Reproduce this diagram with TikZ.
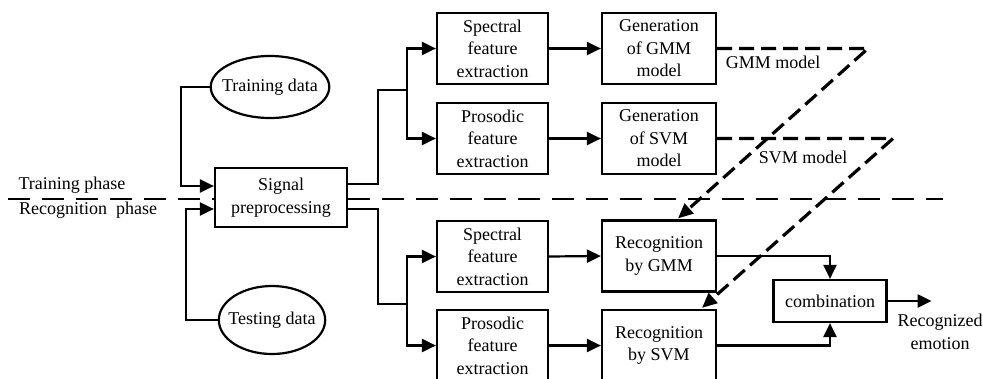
\documentclass[tikz,border=0pt]{standalone}
\usepackage{fontspec}
\setmainfont{Liberation Serif}
\usetikzlibrary{arrows.meta,shapes.geometric}

\begin{document}
\begin{tikzpicture}[
        x=1pt, y=-1pt,
        font=\fontsize{18}{22.5}\selectfont,
        box/.style={
            draw,
            rectangle,
            fill=white,
            line width=2.2pt,
            minimum width=111pt,
            minimum height=71pt,
            inner sep=1pt,
            align=center
        },
        data/.style={
            draw,
            ellipse,
            line width=2.2pt,
            inner xsep=-6pt,
            inner ysep=0pt,
            minimum height=62pt
        },
        arr/.style={line width=2.2pt, -{Triangle[length=14pt,width=13pt]}},
        link/.style={line width=2.2pt},
        model/.style={line width=3.2pt, dash pattern=on 15pt off 7pt, -{Triangle[length=15pt,width=13pt]}},
        phase/.style={line width=2pt, dash pattern=on 22pt off 12pt}
    ]
        \useasboundingbox (0,0) rectangle (983,378);

        % Phase separator
        \coordinate (phL) at (8,199);
        \coordinate (phR) at (943,199);
        \draw[phase] (phL) -- (phR);
        \node (trph) at (72,185) {Training phase};
        \node (reph) at (88,210) {Recognition~ phase};

        % Input data and preprocessing
        \node[data] (train) at (270,87) {Training data};
        \node[data, minimum height=68pt] (test) at (272,320) {Testing data};
        \node[box, minimum width=132pt, minimum height=59pt] (prep) at (281,197.5) {Signal\\preprocessing};

        % Feature extraction boxes
        \foreach \n/\y/\t in {spec1/48.5/Spectral, pros1/138.5/Prosodic, spec2/256.5/Spectral, pros2/345.5/Prosodic} {
            \node[box] (\n) at (492.5,\y) {\t\\feature\\extraction};
        }

        % Model and recognition boxes
        \node[box, minimum width=114pt] (gen1) at (659,48.5) {Generation\\of GMM\\model};
        \node[box, minimum width=114pt] (gen2) at (659,138.5) {Generation\\of SVM\\model};
        \node[box, minimum width=114pt] (rec1) at (659,256) {Recognition\\by GMM};
        \node[box, minimum width=114pt] (rec2) at (659,345.5) {Recognition\\by SVM};
        \node[box, minimum width=113pt, minimum height=42pt] (comb) at (830,301) {combination};

        % Labels
        \node (gmmlbl) at (773,62) {GMM model};
        \node (svmlbl) at (803,157) {SVM model};
        \node[align=center] (emotxt) at (940,332) {Recognized\\emotion};

        % Data into preprocessing
        \draw[arr] (train.west) -- ++(-29,0) |- ([yshift=11.5pt]prep.west);
        \draw[arr] (test.west) -- ++(-32,0) |- ([yshift=-11.5pt]prep.west);

        % Preprocessing to feature extraction
        \coordinate (split1) at (407,90);
        \coordinate (split2) at (407,304);
        \draw[link] ([yshift=13.5pt]prep.east) -- ++(30,0) |- (split1);
        \draw[link] ([yshift=-11.5pt]prep.east) -- ++(30,0) |- (split2);
        \foreach \s/\b in {split1/spec1, split1/pros1, split2/spec2, split2/pros2} {
            \draw[arr] (\s) |- (\b.west);
        }

        % Feature extraction to models
        \foreach \a/\b in {spec1/gen1, pros1/gen2, spec2/rec1, pros2/rec2} {
            \draw[arr] (\a.east) -- (\b.west);
        }

        % Trained models
        \coordinate (gmmturn) at (868,48.5);
        \coordinate (svmturn) at (893,138.5);
        \draw[model] (gen1.east) -- (gmmturn) -- ([xshift=19pt,yshift=1pt]rec1.north);
        \draw[model] (gen2.east) -- (svmturn) -- ([xshift=43pt,yshift=1pt]rec2.north);

        % Combination
        \draw[arr] (rec1.east) -| (comb.north);
        \draw[arr] (rec2.east) -| (comb.south);
        \draw[arr] (comb.east) -- ++(44,0) coordinate (emo);
    \end{tikzpicture}
\end{document}
